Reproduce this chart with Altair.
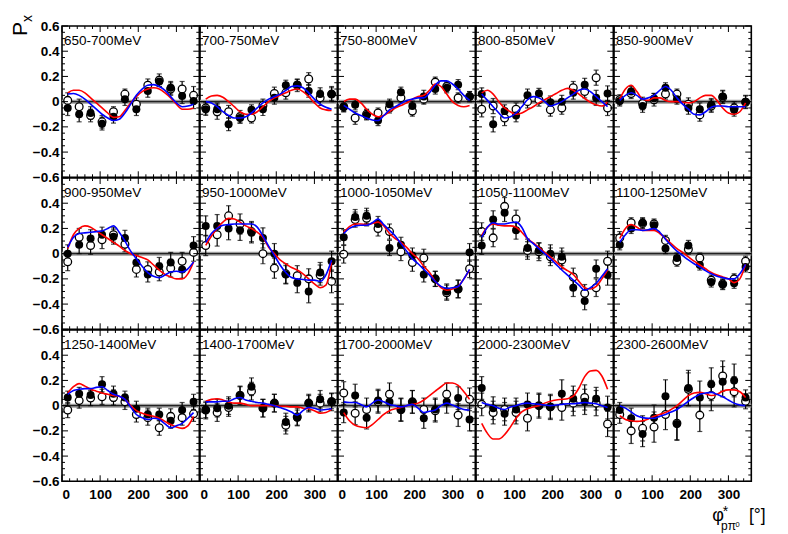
import altair as alt
import pandas as pd

PANEL_LABELS = ["650-700MeV", "700-750MeV", "750-800MeV", "800-850MeV", "850-900MeV",
                "900-950MeV", "950-1000MeV", "1000-1050MeV", "1050-1100MeV", "1100-1250MeV",
                "1250-1400MeV", "1400-1700MeV", "1700-2000MeV", "2000-2300MeV", "2300-2600MeV"]

PHI_POINTS = [15, 45, 75, 105, 135, 165, 195, 225, 255, 285, 315, 345]
PHI_CURVE = [15, 30, 45, 60, 75, 90, 105, 120, 135, 150, 165, 180, 195, 210, 225,
             240, 255, 270, 285, 300, 315, 330, 345]

FILLED_VALUES = [
    [-0.05, -0.10, -0.09, -0.175, -0.12, 0.02, -0.06, 0.085, 0.16, 0.11, 0.045, 0.005],
    [-0.06, -0.06, -0.18, -0.13, -0.065, -0.06, 0.03, 0.13, 0.135, 0.085, 0.06, 0.06],
    [-0.04, -0.025, -0.105, -0.15, -0.02, 0.075, -0.035, 0.04, 0.10, 0.11, 0.135, 0.04],
    [0.06, -0.18, -0.075, -0.11, 0.05, 0.065, -0.005, 0.0, 0.07, 0.135, 0.03, 0.065],
    [0.005, 0.08, -0.035, 0.025, 0.11, 0.02, -0.05, -0.06, -0.025, 0.04, -0.065, 0.0],
    [0.0, 0.07, 0.12, 0.15, 0.135, 0.125, -0.07, -0.165, -0.10, -0.07, -0.125, 0.065],
    [0.22, 0.22, 0.20, 0.185, 0.165, 0.125, 0.0, -0.165, -0.23, -0.30, -0.15, -0.06],
    [0.13, 0.29, 0.30, 0.235, 0.045, 0.07, -0.015, -0.165, -0.20, -0.30, -0.28, 0.01],
    [0.065, 0.27, 0.325, 0.185, 0.045, 0.025, 0.0, -0.025, -0.27, -0.375, -0.12, -0.17],
    [0.07, 0.20, 0.245, 0.225, 0.04, -0.035, 0.065, -0.09, -0.225, -0.245, -0.235, -0.105],
    [0.065, 0.095, 0.085, 0.17, 0.095, 0.065, -0.025, -0.07, -0.07, -0.12, -0.035, 0.03],
    [-0.035, -0.02, 0.0, 0.085, 0.15, -0.02, 0.02, -0.13, -0.095, 0.02, 0.05, 0.035],
    [-0.055, 0.08, -0.095, 0.04, 0.03, -0.035, 0.03, -0.10, -0.03, 0.03, 0.06, -0.11],
    [0.14, -0.02, -0.065, -0.03, 0.01, 0.0, -0.01, 0.095, 0.055, 0.03, 0.055, -0.015],
    [-0.035, -0.10, -0.225, -0.095, 0.075, -0.145, 0.14, 0.065, 0.17, 0.19, 0.20, 0.065],
]
FILLED_ERRORS = [
    [0.06, 0.06, 0.05, 0.05, 0.05, 0.05, 0.05, 0.05, 0.04, 0.05, 0.06, 0.06],
    [0.05, 0.05, 0.05, 0.04, 0.04, 0.05, 0.05, 0.04, 0.04, 0.05, 0.05, 0.05],
    [0.04, 0.04, 0.04, 0.04, 0.04, 0.04, 0.04, 0.05, 0.04, 0.04, 0.04, 0.04],
    [0.05, 0.06, 0.05, 0.05, 0.05, 0.04, 0.05, 0.05, 0.05, 0.05, 0.06, 0.06],
    [0.04, 0.04, 0.05, 0.04, 0.04, 0.04, 0.05, 0.05, 0.05, 0.05, 0.05, 0.05],
    [0.07, 0.07, 0.07, 0.06, 0.06, 0.06, 0.06, 0.06, 0.07, 0.08, 0.07, 0.07],
    [0.08, 0.09, 0.09, 0.08, 0.08, 0.08, 0.08, 0.07, 0.08, 0.09, 0.08, 0.08],
    [0.06, 0.06, 0.06, 0.06, 0.06, 0.06, 0.06, 0.06, 0.06, 0.06, 0.07, 0.07],
    [0.07, 0.07, 0.07, 0.07, 0.07, 0.06, 0.07, 0.07, 0.07, 0.07, 0.07, 0.08],
    [0.04, 0.04, 0.04, 0.04, 0.04, 0.04, 0.04, 0.04, 0.04, 0.04, 0.04, 0.04],
    [0.05, 0.05, 0.05, 0.06, 0.06, 0.05, 0.06, 0.05, 0.05, 0.06, 0.06, 0.06],
    [0.06, 0.07, 0.07, 0.07, 0.07, 0.07, 0.07, 0.07, 0.06, 0.06, 0.07, 0.06],
    [0.08, 0.09, 0.09, 0.09, 0.09, 0.09, 0.09, 0.08, 0.09, 0.09, 0.09, 0.09],
    [0.09, 0.09, 0.09, 0.09, 0.09, 0.09, 0.09, 0.11, 0.10, 0.10, 0.09, 0.09],
    [0.06, 0.08, 0.10, 0.10, 0.13, 0.13, 0.14, 0.13, 0.13, 0.12, 0.13, 0.06],
]
OPEN_VALUES = [
    [0.01, -0.04, -0.11, -0.16, -0.08, 0.06, -0.02, 0.13, 0.17, 0.10, 0.10, 0.05],
    [-0.05, -0.08, -0.08, -0.12, -0.13, -0.03, 0.065, 0.07, 0.13, 0.18, 0.03, 0.06],
    [-0.04, -0.13, -0.10, -0.09, -0.05, 0.03, -0.075, 0.02, 0.155, 0.12, 0.03, 0.04],
    [-0.06, -0.035, -0.13, -0.06, 0.0, 0.015, -0.065, -0.05, 0.11, 0.08, 0.19, -0.05],
    [0.015, 0.065, -0.015, 0.015, 0.06, 0.06, -0.02, -0.105, -0.035, 0.035, -0.05, -0.005],
    [-0.065, 0.13, 0.065, 0.11, 0.15, 0.075, -0.125, -0.125, -0.145, -0.115, -0.06, 0.01],
    [0.065, 0.15, 0.30, 0.235, 0.175, 0.0, -0.115, -0.16, -0.175, -0.20, -0.17, -0.22],
    [-0.005, 0.27, 0.28, 0.20, 0.175, 0.015, -0.07, -0.035, -0.20, -0.31, -0.28, -0.12],
    [0.175, 0.125, 0.375, 0.275, 0.025, 0.015, -0.025, -0.05, -0.185, -0.315, -0.27, -0.06],
    [0.125, 0.245, 0.24, 0.235, 0.105, -0.06, 0.035, -0.035, -0.21, -0.24, -0.20, -0.06],
    [-0.035, 0.04, 0.06, 0.07, 0.065, 0.03, -0.07, -0.095, -0.175, -0.085, -0.095, -0.065],
    [-0.035, -0.055, -0.015, 0.08, 0.115, -0.02, 0.02, -0.155, -0.09, 0.02, 0.02, 0.03],
    [0.10, -0.06, -0.03, 0.03, 0.09, -0.03, 0.03, -0.03, -0.04, 0.09, -0.075, 0.05],
    [0.01, -0.055, -0.03, -0.055, -0.10, 0.0, -0.01, -0.015, 0.02, 0.065, 0.02, -0.145],
    [-0.07, -0.20, -0.18, -0.17, -0.07, -0.14, 0.13, -0.075, 0.08, 0.235, 0.11, 0.035],
]
OPEN_ERRORS = [
    [0.06, 0.06, 0.05, 0.05, 0.04, 0.04, 0.05, 0.05, 0.05, 0.05, 0.06, 0.07],
    [0.05, 0.06, 0.05, 0.05, 0.04, 0.05, 0.05, 0.05, 0.05, 0.05, 0.06, 0.06],
    [0.04, 0.05, 0.04, 0.04, 0.04, 0.04, 0.04, 0.04, 0.04, 0.04, 0.04, 0.04],
    [0.06, 0.06, 0.06, 0.05, 0.05, 0.05, 0.05, 0.05, 0.05, 0.05, 0.06, 0.06],
    [0.04, 0.04, 0.05, 0.05, 0.04, 0.04, 0.05, 0.05, 0.05, 0.05, 0.05, 0.05],
    [0.07, 0.07, 0.07, 0.07, 0.06, 0.06, 0.06, 0.06, 0.07, 0.07, 0.07, 0.07],
    [0.08, 0.09, 0.08, 0.08, 0.08, 0.08, 0.08, 0.08, 0.08, 0.08, 0.08, 0.09],
    [0.07, 0.06, 0.06, 0.06, 0.06, 0.07, 0.07, 0.07, 0.06, 0.06, 0.07, 0.07],
    [0.07, 0.07, 0.07, 0.07, 0.07, 0.07, 0.07, 0.07, 0.07, 0.07, 0.07, 0.08],
    [0.05, 0.04, 0.04, 0.04, 0.04, 0.04, 0.04, 0.04, 0.04, 0.04, 0.04, 0.04],
    [0.06, 0.06, 0.06, 0.06, 0.06, 0.06, 0.06, 0.06, 0.06, 0.06, 0.06, 0.06],
    [0.07, 0.07, 0.07, 0.07, 0.07, 0.07, 0.07, 0.07, 0.07, 0.07, 0.07, 0.07],
    [0.09, 0.09, 0.09, 0.09, 0.09, 0.09, 0.09, 0.09, 0.09, 0.09, 0.09, 0.09],
    [0.09, 0.09, 0.09, 0.09, 0.10, 0.10, 0.10, 0.10, 0.10, 0.10, 0.10, 0.10],
    [0.07, 0.10, 0.10, 0.12, 0.12, 0.13, 0.13, 0.13, 0.12, 0.12, 0.12, 0.06],
]
RED_CURVES = [
    [0.07, 0.09, 0.09, 0.07, 0.03, -0.01, -0.05, -0.09, -0.125, -0.12, -0.07, -0.01, 0.04, 0.08, 0.10, 0.11, 0.10, 0.07, 0.03, -0.02, -0.06, -0.06, -0.05],
    [0.02, 0.045, 0.05, 0.035, 0.0, -0.04, -0.08, -0.10, -0.10, -0.08, -0.04, 0.0, 0.03, 0.05, 0.07, 0.09, 0.10, 0.08, 0.04, -0.01, -0.05, -0.065, -0.07],
    [0.0, 0.02, 0.02, -0.01, -0.06, -0.10, -0.12, -0.11, -0.08, -0.05, -0.03, -0.01, 0.02, 0.04, 0.05, 0.09, 0.14, 0.12, 0.06, 0.0, -0.03, -0.04, -0.03],
    [0.07, 0.09, 0.06, 0.0, -0.05, -0.08, -0.10, -0.09, -0.065, -0.04, -0.01, 0.015, 0.04, 0.065, 0.09, 0.105, 0.09, 0.06, 0.025, -0.005, -0.025, -0.035, 0.0],
    [0.02, 0.10, 0.13, 0.08, 0.02, 0.01, 0.03, 0.03, 0.01, 0.0, 0.0, -0.005, -0.01, 0.0, 0.03, 0.05, 0.05, 0.01, -0.05, -0.09, -0.10, -0.08, -0.01],
    [0.04, 0.15, 0.20, 0.22, 0.21, 0.18, 0.15, 0.12, 0.09, 0.06, 0.025, 0.0, -0.015, -0.03, -0.05, -0.09, -0.13, -0.165, -0.185, -0.20, -0.20, -0.16, -0.065],
    [0.065, 0.14, 0.20, 0.25, 0.28, 0.275, 0.25, 0.22, 0.20, 0.17, 0.13, 0.05, 0.0, -0.05, -0.08, -0.11, -0.13, -0.16, -0.20, -0.24, -0.27, -0.25, -0.07],
    [0.17, 0.215, 0.235, 0.235, 0.23, 0.24, 0.25, 0.22, 0.16, 0.12, 0.09, 0.05, 0.0, -0.04, -0.10, -0.15, -0.22, -0.27, -0.29, -0.28, -0.26, -0.20, -0.13],
    [0.145, 0.21, 0.235, 0.225, 0.22, 0.22, 0.21, 0.17, 0.12, 0.085, 0.05, 0.01, -0.025, -0.065, -0.105, -0.135, -0.165, -0.22, -0.27, -0.28, -0.26, -0.20, -0.13],
    [0.12, 0.20, 0.23, 0.21, 0.185, 0.185, 0.185, 0.16, 0.12, 0.08, 0.04, 0.01, -0.025, -0.06, -0.09, -0.12, -0.15, -0.17, -0.185, -0.20, -0.23, -0.20, -0.085],
    [0.10, 0.15, 0.175, 0.155, 0.13, 0.115, 0.10, 0.09, 0.08, 0.075, 0.05, 0.0, -0.04, -0.06, -0.075, -0.085, -0.10, -0.125, -0.15, -0.17, -0.18, -0.16, -0.085],
    [0.035, 0.05, 0.055, 0.045, 0.03, 0.02, 0.02, 0.01, 0.0, 0.0, 0.0, 0.0, 0.0, -0.005, -0.005, -0.01, -0.01, -0.02, -0.025, -0.04, -0.06, -0.055, -0.03],
    [-0.055, -0.12, -0.155, -0.17, -0.175, -0.15, -0.11, -0.07, -0.04, -0.025, -0.015, 0.0, 0.01, 0.02, 0.045, 0.08, 0.115, 0.15, 0.18, 0.18, 0.16, 0.11, 0.05],
    [-0.14, -0.22, -0.265, -0.265, -0.23, -0.17, -0.10, -0.05, -0.025, -0.01, 0.0, 0.02, 0.035, 0.045, 0.05, 0.055, 0.075, 0.14, 0.23, 0.275, 0.28, 0.235, 0.13],
    [-0.08, -0.11, -0.12, -0.125, -0.12, -0.105, -0.085, -0.07, -0.055, -0.03, 0.0, 0.04, 0.08, 0.10, 0.105, 0.095, 0.08, 0.09, 0.115, 0.125, 0.125, 0.11, 0.065],
]
BLUE_CURVES = [
    [0.06, 0.065, 0.05, 0.02, -0.02, -0.06, -0.10, -0.13, -0.15, -0.14, -0.09, -0.02, 0.05, 0.10, 0.13, 0.135, 0.12, 0.09, 0.04, -0.01, -0.04, -0.035, -0.02],
    [0.0, -0.01, -0.04, -0.08, -0.11, -0.13, -0.13, -0.12, -0.09, -0.05, -0.01, 0.02, 0.04, 0.06, 0.09, 0.12, 0.125, 0.11, 0.07, 0.02, -0.02, -0.045, -0.06],
    [-0.03, -0.06, -0.09, -0.11, -0.13, -0.145, -0.15, -0.11, -0.065, -0.04, -0.015, 0.01, 0.02, 0.03, 0.03, 0.07, 0.13, 0.165, 0.165, 0.14, 0.10, 0.05, 0.01],
    [0.06, 0.01, -0.04, -0.09, -0.13, -0.12, -0.09, -0.04, 0.015, 0.04, 0.03, 0.0, -0.035, -0.02, 0.0, 0.03, 0.06, 0.09, 0.10, 0.08, 0.04, 0.0, -0.04],
    [0.01, 0.05, 0.07, 0.05, 0.02, 0.03, 0.05, 0.09, 0.12, 0.09, 0.03, -0.02, -0.06, -0.10, -0.105, -0.08, -0.045, -0.035, -0.035, -0.04, -0.04, -0.04, -0.04],
    [0.05, 0.13, 0.16, 0.165, 0.17, 0.175, 0.18, 0.20, 0.22, 0.17, 0.10, 0.02, -0.04, -0.10, -0.15, -0.18, -0.19, -0.17, -0.145, -0.14, -0.145, -0.12, -0.065],
    [0.09, 0.16, 0.20, 0.225, 0.23, 0.235, 0.235, 0.235, 0.235, 0.21, 0.14, 0.06, -0.015, -0.09, -0.15, -0.19, -0.20, -0.205, -0.21, -0.21, -0.22, -0.17, -0.05],
    [0.16, 0.20, 0.22, 0.225, 0.225, 0.245, 0.275, 0.23, 0.185, 0.14, 0.08, 0.02, -0.04, -0.08, -0.125, -0.17, -0.22, -0.26, -0.275, -0.27, -0.26, -0.20, -0.125],
    [0.13, 0.21, 0.245, 0.235, 0.235, 0.245, 0.25, 0.21, 0.12, 0.08, 0.04, 0.0, -0.04, -0.085, -0.13, -0.17, -0.21, -0.25, -0.29, -0.27, -0.235, -0.18, -0.12],
    [0.09, 0.15, 0.19, 0.19, 0.185, 0.19, 0.20, 0.17, 0.115, 0.065, 0.02, -0.015, -0.05, -0.08, -0.105, -0.135, -0.16, -0.18, -0.19, -0.20, -0.20, -0.16, -0.085],
    [0.09, 0.12, 0.13, 0.135, 0.135, 0.145, 0.15, 0.12, 0.09, 0.075, 0.05, -0.01, -0.07, -0.095, -0.11, -0.10, -0.11, -0.145, -0.175, -0.16, -0.14, -0.10, -0.055],
    [0.03, 0.03, 0.03, 0.035, 0.035, 0.055, 0.065, 0.045, 0.035, 0.025, 0.02, 0.01, 0.0, -0.015, -0.03, -0.05, -0.075, -0.04, -0.015, -0.02, -0.035, -0.03, -0.025],
    [0.03, 0.025, 0.025, 0.01, -0.01, 0.02, 0.045, 0.03, 0.01, 0.0, -0.01, 0.0, 0.01, -0.02, -0.055, -0.045, -0.035, 0.0, 0.02, 0.005, -0.015, -0.03, -0.035],
    [0.025, 0.01, 0.0, -0.02, -0.03, -0.01, 0.0, 0.015, 0.02, 0.015, 0.01, 0.005, 0.0, 0.005, 0.01, 0.015, 0.015, 0.02, 0.025, 0.02, 0.015, 0.0, -0.015],
    [0.0, -0.02, -0.05, -0.08, -0.095, -0.10, -0.10, -0.085, -0.07, -0.05, -0.03, 0.0, 0.035, 0.065, 0.09, 0.10, 0.105, 0.09, 0.07, 0.045, 0.02, 0.005, 0.0],
]

Y_MAJOR = [-0.6, -0.4, -0.2, 0.0, 0.2, 0.4, 0.6]
Y_MINOR = [-0.55, -0.5, -0.45, -0.35, -0.3, -0.25, -0.15, -0.1, -0.05,
           0.05, 0.1, 0.15, 0.25, 0.3, 0.35, 0.45, 0.5, 0.55]
Y_LABELS_TOP = [-0.6, -0.4, -0.2, 0.0, 0.2, 0.4, 0.6]
Y_LABELS_LOWER = [-0.6, -0.4, -0.2, 0.0, 0.2, 0.4]
X_MAJOR = [0, 100, 200, 300]
X_MINOR = [20, 40, 60, 80, 120, 140, 160, 180, 220, 240, 260, 280, 320, 340]

W, H = 137.3, 151.3
TICK_FONT = "Liberation Sans"

xs = alt.Scale(domain=[0, 360], nice=False, zero=False)
ys = alt.Scale(domain=[-0.6, 0.6], nice=False, zero=False)


def make_panel(i):
    row, col = divmod(i, 5)
    if row == 2:
        xaxis = alt.Axis(values=X_MAJOR, format="d", title=None, ticks=False, domain=False,
                         grid=False, labelFont=TICK_FONT, labelFontSize=13.5,
                         labelFontWeight="bold", labelColor="black", labelPadding=6)
    else:
        xaxis = None
    if col == 0:
        yaxis = alt.Axis(values=Y_LABELS_TOP if row == 0 else Y_LABELS_LOWER, format="~g",
                         title=None, ticks=False, domain=False, grid=False,
                         labelFont=TICK_FONT, labelFontSize=13.5, labelFontWeight="bold",
                         labelColor="black", labelPadding=3)
    else:
        yaxis = None

    def X(f):
        return alt.X(f"{f}:Q", scale=xs, axis=xaxis)

    def Y(f):
        return alt.Y(f"{f}:Q", scale=ys, axis=yaxis)

    filled = pd.DataFrame({"phi": PHI_POINTS, "val": FILLED_VALUES[i], "err": FILLED_ERRORS[i]})
    filled["lo"] = filled["val"] - filled["err"]
    filled["hi"] = filled["val"] + filled["err"]
    opened = pd.DataFrame({"phi": PHI_POINTS, "val": OPEN_VALUES[i], "err": OPEN_ERRORS[i]})
    opened["lo"] = opened["val"] - opened["err"]
    opened["hi"] = opened["val"] + opened["err"]
    red = pd.DataFrame({"phi": PHI_CURVE, "val": RED_CURVES[i]})
    blue = pd.DataFrame({"phi": PHI_CURVE, "val": BLUE_CURVES[i]})
    zero = pd.DataFrame({"v": [0.0]})
    ymaj = pd.DataFrame({"v": Y_MAJOR})
    ymin = pd.DataFrame({"v": Y_MINOR})
    xmaj = pd.DataFrame({"v": X_MAJOR})
    xmin = pd.DataFrame({"v": X_MINOR})
    lab = pd.DataFrame({"label": [PANEL_LABELS[i]]})

    layers = [
        alt.Chart(zero).mark_rule(color="#9a9a9a", strokeWidth=4).encode(y=Y("v")),
        alt.Chart(zero).mark_rule(color="#222222", strokeWidth=1.2).encode(y=Y("v")),
    ]
    for d in (opened, filled):
        layers.append(alt.Chart(d).mark_rule(color="black", strokeWidth=1.2)
                      .encode(x=X("phi"), y=Y("lo"), y2="hi"))
        layers.append(alt.Chart(d).mark_tick(color="black", orient="horizontal", size=5,
                                             thickness=1.2).encode(x=X("phi"), y=Y("lo")))
        layers.append(alt.Chart(d).mark_tick(color="black", orient="horizontal", size=5,
                                             thickness=1.2).encode(x=X("phi"), y=Y("hi")))
    layers.append(alt.Chart(opened).mark_point(shape="circle", size=60, stroke="black",
                                               strokeWidth=1.3, fill="white", fillOpacity=1,
                                               opacity=1).encode(x=X("phi"), y=Y("val")))
    layers.append(alt.Chart(filled).mark_circle(size=64, color="black", opacity=1)
                  .encode(x=X("phi"), y=Y("val")))
    layers.append(alt.Chart(red).mark_line(color="#ff0000", strokeWidth=1.6,
                                           interpolate="monotone")
                  .encode(x=X("phi"), y=Y("val")))
    layers.append(alt.Chart(blue).mark_line(color="#0000ff", strokeWidth=1.6,
                                            interpolate="monotone")
                  .encode(x=X("phi"), y=Y("val")))
    # inner ticks on all four sides
    for d, ln in ((ymaj, 6), (ymin, 3)):
        layers.append(alt.Chart(d).mark_rule(color="black", strokeWidth=1)
                      .encode(y=Y("v"), x=alt.value(0), x2=alt.value(ln)))
        layers.append(alt.Chart(d).mark_rule(color="black", strokeWidth=1)
                      .encode(y=Y("v"), x=alt.value(W - ln), x2=alt.value(W)))
    for d, ln in ((xmaj, 6), (xmin, 3)):
        layers.append(alt.Chart(d).mark_rule(color="black", strokeWidth=1)
                      .encode(x=X("v"), y=alt.value(H), y2=alt.value(H - ln)))
        layers.append(alt.Chart(d).mark_rule(color="black", strokeWidth=1)
                      .encode(x=X("v"), y=alt.value(0), y2=alt.value(ln)))
    layers.append(alt.Chart(lab).mark_text(align="left", baseline="alphabetic",
                                           font="Liberation Sans", fontSize=13.5,
                                           color="black")
                  .encode(x=alt.value(2), y=alt.value(18.5), text="label:N"))

    if i == 0:
        tp = pd.DataFrame({"t": ["P"]})
        tx = pd.DataFrame({"t": ["x"]})
        layers.append(alt.Chart(tp).mark_text(align="left", baseline="alphabetic", angle=270,
                                              font="Liberation Sans", fontSize=21,
                                              color="black")
                      .encode(x=alt.value(-35.5), y=alt.value(10), text="t:N"))
        layers.append(alt.Chart(tx).mark_text(align="left", baseline="alphabetic", angle=270,
                                              font="Liberation Sans", fontSize=14,
                                              color="black")
                      .encode(x=alt.value(-30.5), y=alt.value(-4), text="t:N"))
    if i == 14:
        parts = [("φ", 98.3, 191.0, 18), ("*", 108.8, 186.0, 14), ("pπ", 107.0, 199.5, 12),
                 ("0", 121.5, 197.0, 7.5), ("[°]", 135.0, 191.0, 17.5)]
        for txt, px, py, fs in parts:
            layers.append(alt.Chart(pd.DataFrame({"t": [txt]}))
                          .mark_text(align="left", baseline="alphabetic",
                                     font="Liberation Sans", fontSize=fs, color="black")
                          .encode(x=alt.value(px), y=alt.value(py), text="t:N"))

    return alt.layer(*layers).properties(width=W, height=H)


panels = [make_panel(i) for i in range(15)]

chart = (
    alt.concat(*panels, columns=5, spacing=0, bounds="flush")
    .properties(padding={"left": 0, "top": 6, "right": 5, "bottom": 0}, background="white")
    .configure_view(stroke="black", strokeWidth=1.6)
)

chart.save("out.html", embed_options={"renderer": "svg", "actions": False})
